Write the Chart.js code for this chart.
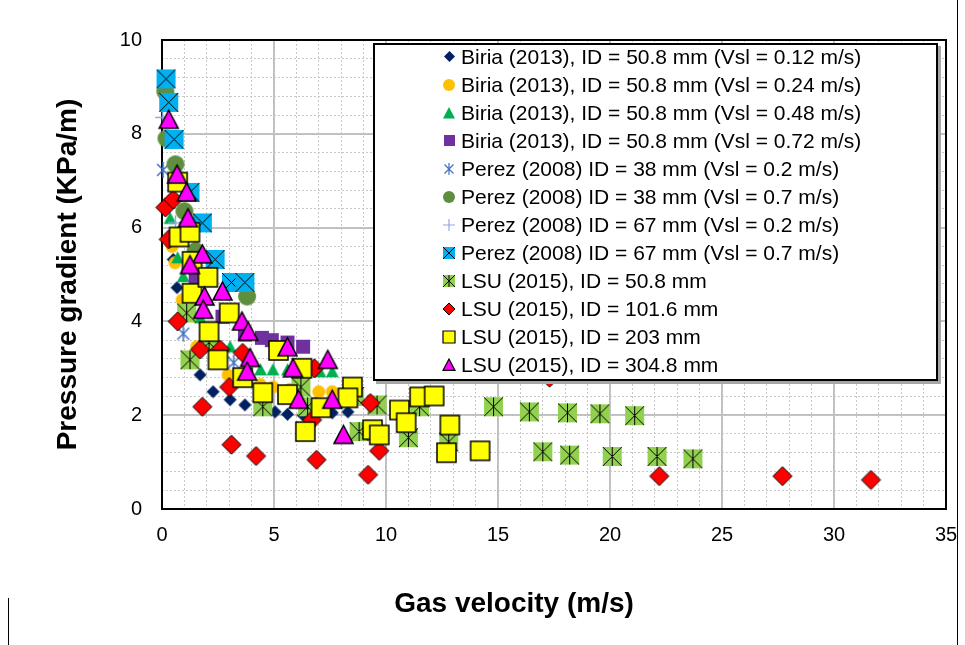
<!DOCTYPE html>
<html>
<head>
<meta charset="utf-8">
<script src="https://cdn.jsdelivr.net/npm/chart.js@4.4.1/dist/chart.umd.min.js"></script>
<style>
  html, body { margin: 0; padding: 0; background: #fff; }
  #wrap { position: relative; width: 965px; height: 645px; overflow: hidden; font-family: Arial, "Liberation Sans", sans-serif; }
  #chart { position: absolute; left: 0; top: 0; }
  #legend { position: absolute; left: 373px; top: 43px; width: 561px; height: 334px; border: 2px solid #000; background: #fff; box-shadow: 3px 3px 0 #a6a6a6; }
  .row { position: absolute; left: 0; height: 28px; line-height: 28px; font-size: 21px; white-space: nowrap; color: #000; }
  .row canvas { position: absolute; }
  .row span { position: absolute; left: 86px; top: 0; }
  .edge { position: absolute; background: #000; }
  #xtitle { position: absolute; left: 514px; top: 586px; transform: translateX(-50%); font-size: 28px; font-weight: bold; line-height: 34px; white-space: nowrap; color: #000; }
</style>
</head>
<body>
<div id="wrap">
  <canvas id="chart" width="965" height="645"></canvas>
  <div id="legend"></div>
  <div id="xtitle">Gas velocity (m/s)</div>
  <div class="edge" style="left:957px; top:0; width:1px; height:645px;"></div>
  <div class="edge" style="left:8px; top:598px; width:1px; height:47px;"></div>
</div>
<script>
// gas velocity (m/s), pressure gradient (KPa/m)
const biria012 = [[0.5,5.32],[0.67,4.72],[1.7,2.86],[2.28,2.5],[3.04,2.33],[3.7,2.22],[4.4,2.16],[5.05,2.07],[5.6,2.02],[6.3,2.0],[7.6,2.05],[8.3,2.07]];
const biria024 = [[0.45,5.6],[0.58,5.25],[0.9,4.46],[1.55,3.46],[2.95,2.86],[4.4,2.65],[4.96,2.6],[5.7,2.55],[7.0,2.5],[7.6,2.5]];
const biria048 = [[0.36,6.2],[0.7,5.36],[0.95,4.96],[1.7,4.08],[3.04,3.46],[4.4,2.97],[4.95,2.97],[5.6,2.97],[7.05,2.93],[7.6,2.93]];
const biria072 = [[1.5,4.9],[2.7,4.1],[3.7,3.72],[4.46,3.65],[4.9,3.6],[5.6,3.55],[6.3,3.46]];
const perez38lo = [[0.05,7.23],[0.95,3.74],[3.2,3.12]];
const perez38hi = [[0.15,8.9],[0.2,7.9],[0.6,7.35],[1.0,6.35],[1.5,5.5],[3.8,4.53]];
const perez67lo = [[0.03,8.35],[0.6,6.1]];
const perez67hi = [[0.18,9.17],[0.3,8.67],[0.54,7.88],[1.25,6.75],[1.8,6.1],[2.37,5.32],[3.1,4.83],[3.7,4.83]];
const lsu508 = [[1.1,4.18],[1.25,3.18],[2.1,3.55],[4.5,2.18],[6.2,2.6],[6.5,2.18],[8.6,2.4],[8.8,1.65],[9.6,2.22],[11.0,1.52],[11.5,2.18],[12.8,1.43],[14.8,2.18],[16.4,2.07],[17.0,1.22],[18.1,2.05],[18.2,1.15],[19.55,2.03],[20.1,1.12],[21.1,1.99],[22.1,1.12],[23.7,1.07]];
const lsu1016 = [[0.15,6.43],[0.5,6.6],[0.3,5.75],[0.7,4.0],[1.7,3.4],[1.8,2.18],[2.6,3.4],[3.0,2.6],[3.1,1.37],[3.6,3.33],[4.2,1.13],[6.8,3.0],[6.7,1.9],[6.9,1.05],[9.3,2.26],[9.7,1.24],[9.2,0.73],[17.3,2.8],[22.2,0.70],[27.7,0.70],[31.65,0.62]];
const lsu203 = [[0.7,6.97],[0.76,5.8],[1.25,5.9],[1.34,5.28],[1.34,4.6],[2.05,4.94],[3.0,4.18],[2.1,3.78],[2.5,3.18],[3.6,2.8],[4.5,2.48],[5.2,3.38],[5.6,2.44],[6.25,3.0],[6.4,1.65],[7.1,2.16],[8.5,2.6],[8.3,2.37],[9.4,1.69],[9.7,1.58],[10.6,2.11],[10.9,1.84],[11.5,2.39],[12.15,2.41],[12.85,1.79],[12.7,1.2],[14.2,1.24]];
const lsu3048 = [[0.3,8.3],[0.67,7.13],[1.1,6.75],[1.16,6.2],[1.8,5.43],[1.25,5.2],[2.7,4.64],[1.9,4.53],[1.84,4.25],[3.57,4.0],[3.85,3.78],[5.6,3.45],[3.93,3.22],[3.8,2.93],[5.85,3.0],[7.4,3.18],[6.1,2.33],[7.6,2.33],[8.1,1.58]];

const labels = [
  'Biria (2013), ID = 50.8 mm (Vsl = 0.12 m/s)',
  'Biria (2013), ID = 50.8 mm (Vsl = 0.24 m/s)',
  'Biria (2013), ID = 50.8 mm (Vsl = 0.48 m/s)',
  'Biria (2013), ID = 50.8 mm (Vsl = 0.72 m/s)',
  'Perez (2008) ID = 38 mm (Vsl = 0.2 m/s)',
  'Perez (2008) ID = 38 mm (Vsl = 0.7 m/s)',
  'Perez (2008) ID = 67 mm (Vsl = 0.2 m/s)',
  'Perez (2008) ID = 67 mm (Vsl = 0.7 m/s)',
  'LSU (2015), ID = 50.8 mm',
  'LSU (2015), ID = 101.6 mm',
  'LSU (2015), ID = 203 mm',
  'LSU (2015), ID = 304.8 mm'
];
const seriesData = [biria012, biria024, biria048, biria072, perez38lo, perez38hi, perez67lo, perez67hi, lsu508, lsu1016, lsu203, lsu3048];

// marker: kind, size on plot, size in legend, fill, stroke, line width
const markers = [
  ['diamond', 13, 11, '#002060', null, 0],
  ['circle', 13, 12, '#FFC000', null, 0],
  ['triangle', 13, 12, '#00B050', null, 0],
  ['square', 14, 11, '#7030A0', null, 0],
  ['asterisk', 16, 12, null, '#4472C4', 1.5],
  ['circle', 18, 12, '#5E8E3E', null, 0],
  ['plus', 15, 12, null, '#8FAADC', 1.5],
  ['squareX', 19, 12, '#00B0F0', '#000', 1],
  ['squareStar', 19, 12, '#92D050', '#000', 1],
  ['diamond', 19, 12, '#FF0000', '#000', 1],
  ['square', 19, 12, '#FFFF00', '#000', 1.5],
  ['triangle', 19, 12, '#FF00FF', '#000', 1.5]
];

function makeMarker(kind, size, fill, stroke, lw) {
  const n = Math.ceil(size + 4);
  const c = document.createElement('canvas');
  c.width = n; c.height = n;
  const g = c.getContext('2d');
  const m = n / 2, h = size / 2;
  g.lineWidth = lw || 1;
  g.strokeStyle = stroke || '#000';
  g.fillStyle = fill || 'transparent';
  g.beginPath();
  if (kind === 'diamond') {
    g.moveTo(m, m - h); g.lineTo(m + h, m); g.lineTo(m, m + h); g.lineTo(m - h, m); g.closePath();
  } else if (kind === 'circle') {
    g.arc(m, m, h, 0, Math.PI * 2);
  } else if (kind === 'triangle') {
    g.moveTo(m, m - h); g.lineTo(m + h, m + h * 0.9); g.lineTo(m - h, m + h * 0.9); g.closePath();
  } else if (kind.startsWith('square')) {
    g.rect(m - h, m - h, size, size);
  }
  if (fill) g.fill();
  if (stroke && (kind === 'diamond' || kind === 'triangle' || kind === 'square')) g.stroke();
  if (kind === 'squareX' || kind === 'squareStar' || kind === 'asterisk') {
    const k = kind === 'asterisk' ? h * 0.75 : h;
    g.beginPath();
    g.moveTo(m - k, m - k); g.lineTo(m + k, m + k);
    g.moveTo(m + k, m - k); g.lineTo(m - k, m + k);
    if (kind !== 'squareX') { g.moveTo(m, m - h); g.lineTo(m, m + h); }
    g.stroke();
  }
  if (kind === 'plus') {
    g.beginPath();
    g.moveTo(m - h, m); g.lineTo(m + h, m);
    g.moveTo(m, m - h); g.lineTo(m, m + h);
    g.stroke();
  }
  return c;
}

const datasets = seriesData.map((pts, i) => {
  const [kind, size, , fill, stroke, lw] = markers[i];
  return {
    label: labels[i],
    data: pts.map(p => ({ x: p[0], y: p[1] })),
    pointStyle: makeMarker(kind, size, fill, stroke, lw),
    pointRadius: size / 2,
    showLine: false,
    clip: false,
    order: seriesData.length - i
  };
});

// legend in the plot box
const legendBox = document.getElementById('legend');
labels.forEach((label, i) => {
  const [kind, , lsize, fill, stroke, lw] = markers[i];
  const row = document.createElement('div');
  row.className = 'row';
  row.style.top = (11.7 + 28.03 * i - 14) + 'px';
  const icon = makeMarker(kind, lsize, fill, stroke, Math.min(lw, 1.2));
  icon.style.left = (74 - icon.width / 2) + 'px';
  icon.style.top = (14 - icon.height / 2) + 'px';
  const text = document.createElement('span');
  text.textContent = label;
  row.appendChild(icon);
  row.appendChild(text);
  legendBox.appendChild(row);
});

const plotFrame = {
  id: 'plotFrame',
  beforeDatasetsDraw(chart) {
    const { ctx, chartArea: a } = chart;
    ctx.save();
    ctx.strokeStyle = '#000';
    ctx.lineWidth = 2;
    ctx.strokeRect(a.left, a.top, a.right - a.left, a.bottom - a.top);
    ctx.restore();
  }
};

const font = 'Arial, "Liberation Sans", sans-serif';

new Chart(document.getElementById('chart').getContext('2d'), {
  type: 'scatter',
  data: { datasets: datasets },
  options: {
    responsive: false,
    animation: false,
    layout: { padding: { left: 47, top: 40, right: 19, bottom: 0 } },
    scales: {
      x: {
        type: 'linear',
        min: 0, max: 35,
        ticks: { stepSize: 5, color: '#000', padding: 14, font: { family: font, size: 20 } },
        grid: { color: '#BFBFBF', lineWidth: 2, drawTicks: false },
        border: { display: false },
        afterFit(s) { s.height = 136; s.paddingLeft = 0; s.paddingRight = 0; }
      },
      y: {
        type: 'linear',
        min: 0, max: 10,
        ticks: { stepSize: 2, color: '#000', padding: 20, font: { family: font, size: 20 } },
        grid: { color: '#BFBFBF', lineWidth: 2, drawTicks: false },
        border: { display: false },
        title: { display: true, text: 'Pressure gradient (KPa/m)', color: '#000', font: { family: font, size: 28, weight: 'bold' } },
        afterFit(s) { s.width = 115; }
      },
      x2: {
        type: 'linear',
        position: 'bottom',
        min: 0, max: 35,
        ticks: { display: false, stepSize: 1 },
        grid: { color: '#C8C8C8', lineWidth: 1, drawTicks: false, borderDash: [2, 2], z: -1 },
        border: { display: false, dash: [2, 2] },
        afterFit(s) { s.height = 0; s.paddingLeft = 0; s.paddingRight = 0; }
      },
      y2: {
        type: 'linear',
        position: 'left',
        min: 0, max: 10,
        ticks: { display: false, stepSize: 0.4 },
        grid: { color: '#C8C8C8', lineWidth: 1, drawTicks: false, borderDash: [2, 2], z: -1 },
        border: { display: false, dash: [2, 2] },
        afterFit(s) { s.width = 0; }
      }
    },
    plugins: {
      legend: { display: false },
      tooltip: { enabled: false }
    }
  },
  plugins: [plotFrame]
});
</script>
</body>
</html>
